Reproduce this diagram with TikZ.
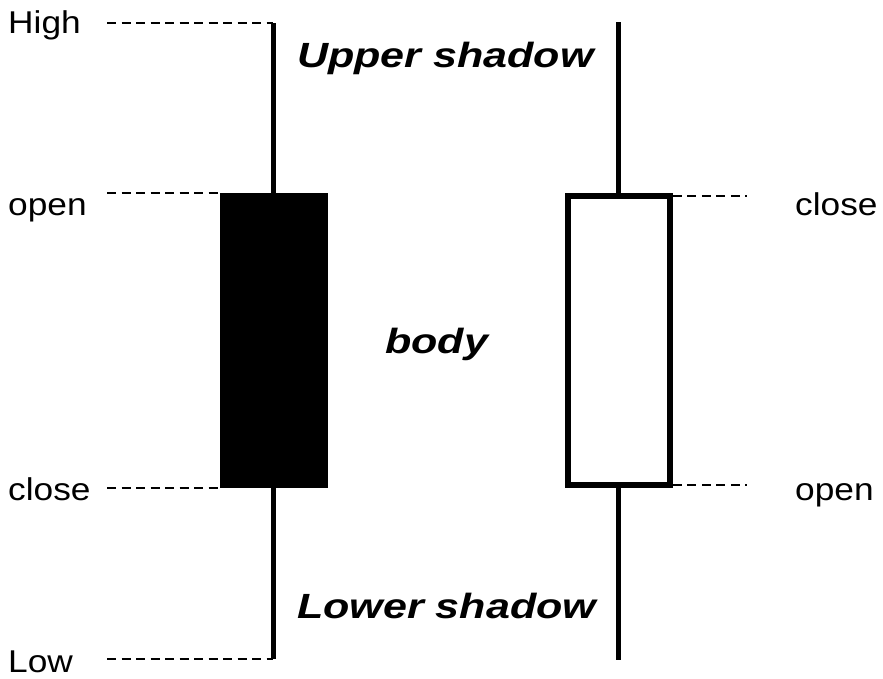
\documentclass[tikz,border=0pt]{standalone}
\usepackage{fontspec}
\setmainfont{Liberation Sans}[FakeStretch=1.12]
\newfontfamily\shadowfont{Liberation Sans}[FakeStretch=1.23]
\tikzset{
  price/.style={anchor=base west, inner sep=0pt, font=\fontsize{31.5}{36}\selectfont},
  part/.style={anchor=base west, inner sep=0pt, font=\shadowfont\bfseries\itshape\fontsize{35}{40}\selectfont},
  guide/.style={dashed, dash pattern=on 9pt off 5.5pt, line width=2pt},
  wick/.style={line width=5pt},
  bear/.style={fill=black, draw=none, outer sep=0pt},
  bull/.style={draw=black, fill=white, line width=5.5pt, outer sep=0pt}
}
\begin{document}
\begin{tikzpicture}[x=1pt, y=-1pt]
\useasboundingbox (0,0) rectangle (883,678);
\fill[white] (0,0) rectangle (883,678);
% labels
\node[price] (high) at (8,33) {High};
\node[price] (lopen) at (8,215) {open};
\node[price] (lclose) at (8,500) {close};
\node[price] (low) at (8,672) {Low};
\node[price] (rclose) at (795,215) {close};
\node[price] (ropen) at (795,500) {open};
\node[part] (upper) at (297,67) {Upper shadow};
\node[part] (body) at (385,353) {body};
\node[part] (lower) at (297,618) {Lower shadow};
% left (bearish) candle
\coordinate (lt) at (273,23);
\coordinate (lb) at (273,659);
\draw[wick] (lt) -- (lb);
\node[bear, minimum width=108pt, minimum height=295pt, inner sep=0pt] (lbody) at (274,340.5) {};
% right (bullish) candle
\coordinate (rt) at (618.5,22);
\coordinate (rb) at (618.5,660);
\draw[wick, line width=5.5pt] (rt) -- (rb);
\node[bull, minimum width=102pt, minimum height=289pt, inner sep=0pt] (rbody) at (619,340.5) {};
% guides
\coordinate (g1) at (107,23);
\coordinate (g2) at (107,193);
\coordinate (g3) at (107,488);
\coordinate (g4) at (107,659);
\coordinate (g5) at (747,196);
\coordinate (g6) at (747,485);
\draw[guide] (g1) -- (lt);
\draw[guide] (g2) -- (lbody.north west);
\draw[guide] (g3) -- (lbody.south west);
\draw[guide] (g4) -- (lb);
\draw[guide] ([xshift=2.75pt]rbody.north east) -- (g5);
\draw[guide] ([xshift=2.75pt]rbody.south east) -- (g6);
\end{tikzpicture}
\end{document}
